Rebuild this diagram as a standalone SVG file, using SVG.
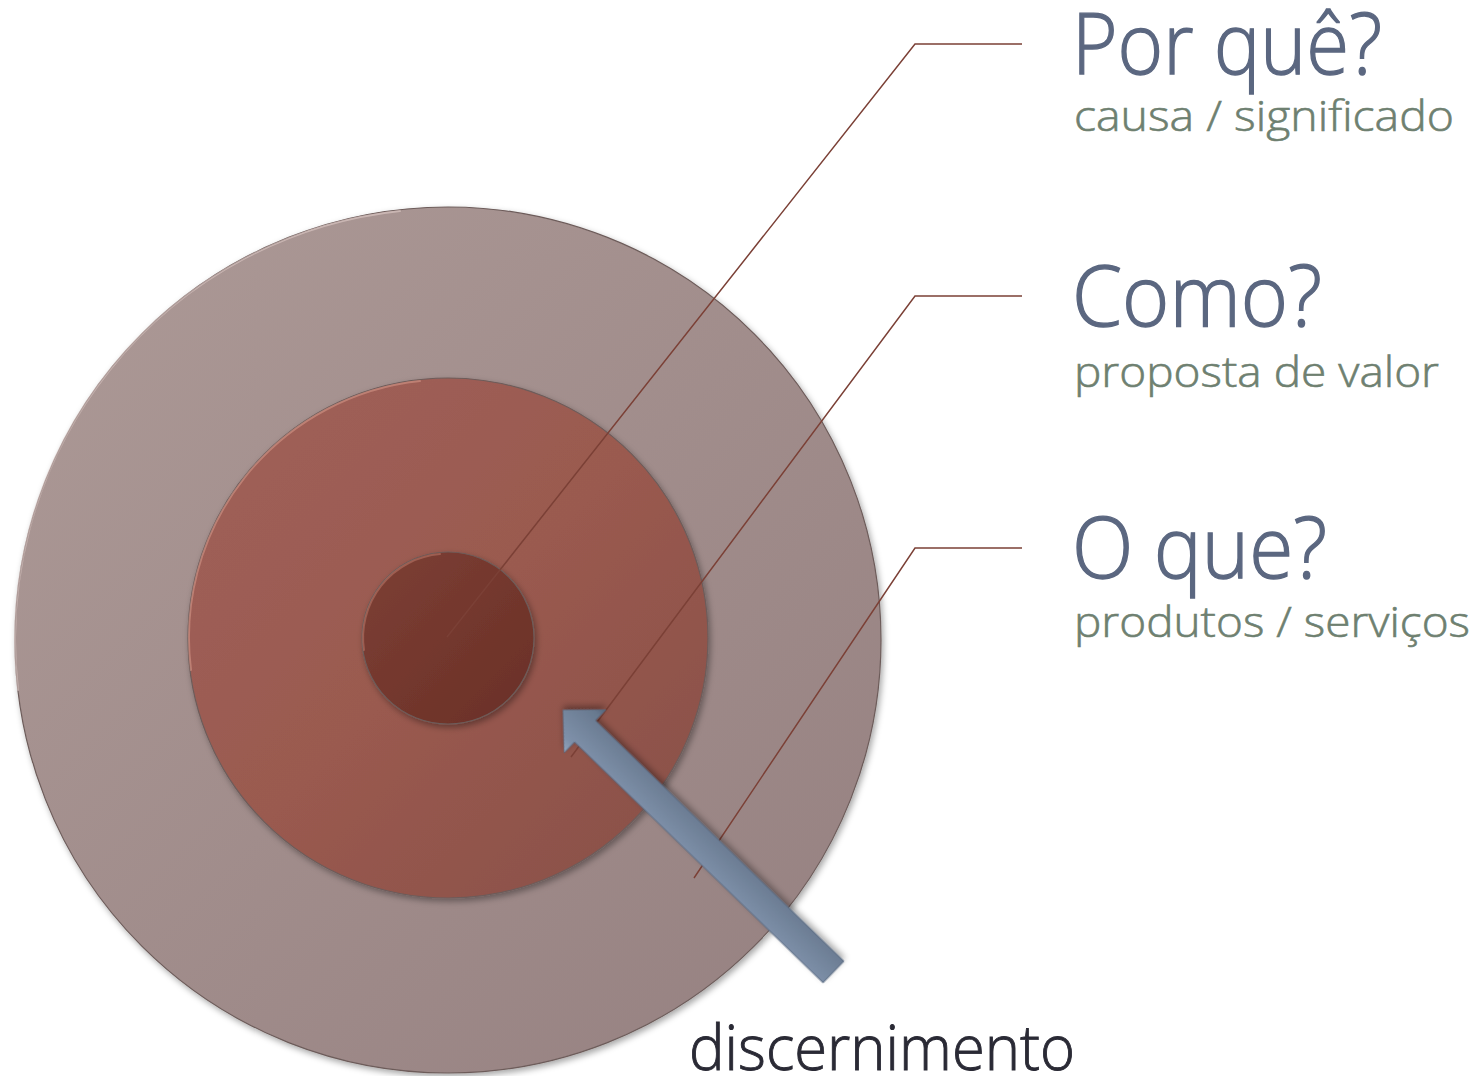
<svg xmlns="http://www.w3.org/2000/svg" width="1482" height="1076" viewBox="0 0 1482 1076">
<style>
.title{font-family:"Open Sans","Noto Sans",sans-serif;font-weight:300;font-size:84px;fill:#5b6780;stroke:#5b6780;stroke-width:1.3}
.sub{font-family:"Open Sans","Noto Sans",sans-serif;font-weight:300;font-size:42px;fill:#6e8070;stroke:#6e8070;stroke-width:0.6}
.foot{font-family:"Open Sans","Noto Sans",sans-serif;font-weight:300;font-size:62px;fill:#2a2a35;stroke:#2a2a35;stroke-width:0.9}
.conn{fill:none;stroke:#7b4036;stroke-width:1.5}
.rim{stroke:#6d5c5a;stroke-width:1.2}
.hl{fill:none;stroke-width:2;stroke-linecap:round}
</style>
<defs>
<linearGradient id="gOuter" x1="0" y1="0" x2="1" y2="1">
<stop offset="0" stop-color="#ad9a97"/><stop offset="1" stop-color="#958080"/>
</linearGradient>
<linearGradient id="gMid" x1="0" y1="0" x2="1" y2="1">
<stop offset="0" stop-color="#a0605a"/><stop offset="0.5" stop-color="#9a5a4f"/><stop offset="1" stop-color="#874e48"/>
</linearGradient>
<linearGradient id="gInner" x1="0" y1="0" x2="1" y2="1">
<stop offset="0" stop-color="#7d3f34"/><stop offset="1" stop-color="#6a3027"/>
</linearGradient>
<linearGradient id="gArrow" x1="0" y1="0" x2="0" y2="1">
<stop offset="0" stop-color="#94a6bd"/><stop offset="0.2" stop-color="#7e90a9"/><stop offset="0.85" stop-color="#68798f"/><stop offset="1" stop-color="#55657a"/>
</linearGradient>
<filter id="shadow" x="-20%" y="-20%" width="140%" height="140%">
<feDropShadow dx="2" dy="3" stdDeviation="3" flood-color="#000" flood-opacity="0.35"/>
</filter>
</defs>

<g id="outer">
<circle cx="448" cy="640" r="433" fill="url(#gOuter)" class="rim" filter="url(#shadow)"/>
<path class="hl" d="M 18 690 A 431 431 0 0 1 400 211" stroke="#e6d2ce" opacity="0.55"/>
</g>
<g id="middle">
<circle cx="448" cy="638" r="260" fill="url(#gMid)" class="rim" filter="url(#shadow)"/>
<path class="hl" d="M 191 670 A 258 258 0 0 1 420 381" stroke="#d89a8c" opacity="0.55"/>
</g>
<g id="inner">
<circle cx="448" cy="638" r="86" fill="url(#gInner)" class="rim" filter="url(#shadow)"/>
<path class="hl" d="M 364 650 A 84 84 0 0 1 440 554" stroke="#b57466" opacity="0.6"/>
</g>

<g id="connectors">
<polyline class="conn" points="447,637 915,44 1022,44"/>
<polyline class="conn" points="571,757 915,296 1022,296"/>
<polyline class="conn" points="694,878 915,548 1022,548"/>
</g>

<g id="arrow" transform="translate(833.5,972) rotate(224.09)">
<path d="M0,-15 L346,-15 L346,-30 L376.6,0 L346,30 L346,15 L0,15 Z" fill="url(#gArrow)" stroke="#56667c" stroke-width="0.8" filter="url(#shadow)"/>
</g>

<g id="label-why">
<text class="title" x="1072" y="74" textLength="310" lengthAdjust="spacingAndGlyphs">Por quê?</text>
<text class="sub" x="1074" y="131" textLength="380" lengthAdjust="spacingAndGlyphs">causa / significado</text>
</g>
<g id="label-how">
<text class="title" x="1072" y="326" textLength="250" lengthAdjust="spacingAndGlyphs">Como?</text>
<text class="sub" x="1074" y="387" textLength="365" lengthAdjust="spacingAndGlyphs">proposta de valor</text>
</g>
<g id="label-what">
<text class="title" x="1072" y="578" textLength="255" lengthAdjust="spacingAndGlyphs">O que?</text>
<text class="sub" x="1074" y="637" textLength="396" lengthAdjust="spacingAndGlyphs">produtos / serviços</text>
</g>
<g id="label-discernimento">
<text class="foot" x="689" y="1070" textLength="386" lengthAdjust="spacingAndGlyphs">discernimento</text>
</g>
</svg>
